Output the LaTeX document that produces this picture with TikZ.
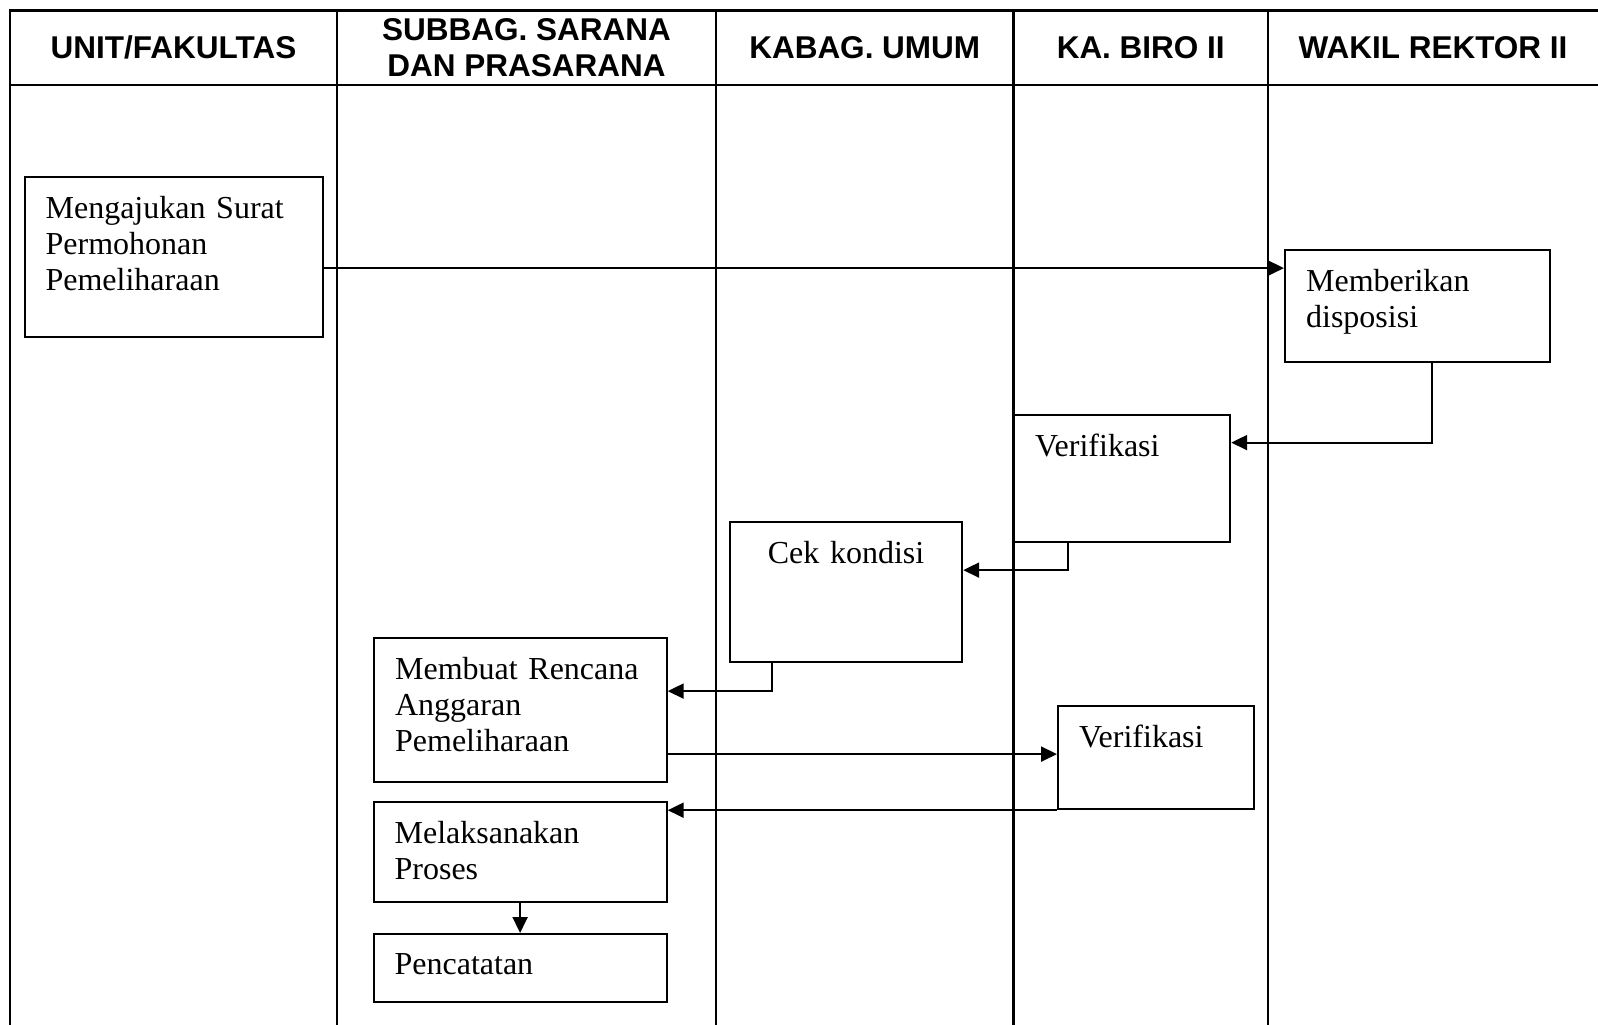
\documentclass[tikz,border=0pt]{standalone}
\usepackage{fontspec}
\setmainfont{Liberation Serif}
\newfontfamily\headsans{Liberation Sans}
\usetikzlibrary{arrows.meta}
\newcommand{\boxtxt}[2]{\parbox[t][#1][t]{\linewidth}{\vspace*{3.5pt}#2}}
\tikzset{
  lane/.style={line width=2.8pt},
  head/.style={font=\headsans\bfseries\fontsize{31.5}{35.5}\selectfont, align=center},
  flowbox/.style={draw, line width=2.2pt, anchor=north west, align=left,
    inner xsep=21pt, inner ysep=15.5pt, font=\fontsize{32}{36}\selectfont},
  flow/.style={line width=2pt, -{Triangle[length=16pt,width=15pt]}}
}
\begin{document}
\begin{tikzpicture}[x=1pt,y=-1pt]
\useasboundingbox (0,0) rectangle (1598,1025);
% table
\draw[lane] (10,1025) -- (10,10.5) -- (1598,10.5);
\draw[lane] (10,85) -- (1598,85);
\foreach \x in {337,716,1013.5,1268}
  \draw[lane] (\x,10.5) -- (\x,1025);
% lane titles
\node[head] (unit) at (173.5,47.75) {UNIT/FAKULTAS};
\node[head] (sarpras) at (526.5,47.75) {SUBBAG. SARANA\\DAN PRASARANA};
\node[head] (kabag) at (864.75,47.75) {KABAG. UMUM};
\node[head] (biro) at (1140.75,47.75) {KA. BIRO II};
\node[head] (warek) at (1433,47.75) {WAKIL REKTOR II};
% steps
\node[flowbox, text width=256.5pt] (mengajukan) at (23.5,176)
  {\boxtxt{129pt}{Mengajukan Surat\\Permohonan\\Pemeliharaan}};
\node[flowbox, text width=223pt] (disposisi) at (1284,249)
  {\boxtxt{81pt}{Memberikan\\disposisi}};
\node[flowbox, text width=174pt] (verif1) at (1013,414)
  {\boxtxt{96pt}{Verifikasi}};
\node[flowbox, text width=190pt] (cek) at (729,521)
  {\boxtxt{109pt}{\centering Cek kondisi}};
\node[flowbox, text width=250.5pt] (rencana) at (373,637)
  {\boxtxt{113pt}{Membuat Rencana\\Anggaran\\Pemeliharaan}};
\node[flowbox, text width=154pt] (verif2) at (1057,705)
  {\boxtxt{72pt}{Verifikasi}};
\node[flowbox, text width=251pt] (melaksanakan) at (372.5,801)
  {\boxtxt{69pt}{Melaksanakan\\Proses}};
\node[flowbox, text width=251pt] (pencatatan) at (372.5,933)
  {\boxtxt{36.5pt}{Pencatatan}};
% arrows
\draw[flow] ([yshift=-11pt]mengajukan.east) -- ([yshift=-11pt]mengajukan.east -| disposisi.west);
\draw[flow] ([xshift=14.5pt]disposisi.south) |- ([yshift=36pt]verif1.east);
\draw[flow] ([xshift=-54pt]verif1.south) |- ([yshift=22pt]cek.east);
\draw[flow] ([xshift=-74pt]cek.south) |- ([yshift=19pt]rencana.east);
\draw[flow] ([yshift=-44pt]rencana.east) -- ([yshift=-44pt]rencana.east -| verif2.west);
\draw[flow] (verif2.south west) -- (verif2.south west -| melaksanakan.east);
\draw[flow] (melaksanakan.south) -- (pencatatan.north);
\end{tikzpicture}
\end{document}
